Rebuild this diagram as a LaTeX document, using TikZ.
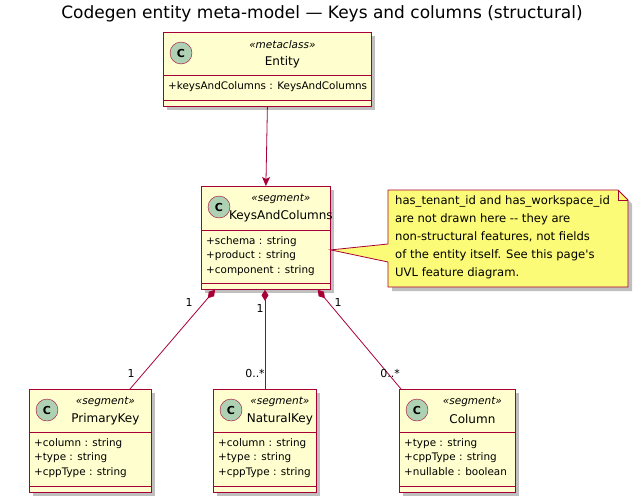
\documentclass[tikz,border=0pt]{standalone}
\usepackage{fontspec}
\setmainfont{DejaVu Sans}
\usetikzlibrary{arrows.meta,calc,positioning}
\definecolor{umlfill}{HTML}{FEFECE}
\definecolor{umlline}{HTML}{A80036}
\definecolor{umlspot}{HTML}{ADD1B2}
\definecolor{umlnote}{HTML}{FBFB77}
\tikzset{
  cls/.style={ draw=umlline, fill=umlfill, line width=0.8pt, inner sep=0pt },
  shade box/.style={ fill=black!25 },
  spot/.style={ draw=umlline, fill=umlspot, circle, minimum size=22pt, inner sep=0pt, font=\fontsize{11}{11}\selectfont\bfseries },
  stereo/.style={ font=\fontsize{10.5}{10}\selectfont\itshape },
  cname/.style={ font=\fontsize{12}{12}\selectfont },
  attrs/.style={ font=\fontsize{10.4}{14.7}\selectfont, align=left, inner sep=0pt, anchor=north west },
  mult/.style={ font=\fontsize{11}{11}\selectfont, inner sep=1pt },
  link/.style={ draw=umlline, line width=0.8pt }
}
% #1 name, #2 x, #3 y, #4 w, #5 h, #6 header, #7 stereotype, #8 title, #9 attributes
\newcommand{\umlclass}[9]{%
  \fill[shade box] (#2+4,#3+4) rectangle ++(#4,#5);
  \node[cls, minimum width=#4pt, minimum height=#5pt, anchor=north west] (#1) at (#2,#3) {};
  \draw[link] ([yshift=-#6pt]#1.north west) -- ([yshift=-#6pt]#1.north east);
  \draw[link] ([yshift=6pt]#1.south west) -- ([yshift=6pt]#1.south east);
  \node[spot] at ([xshift=18pt,yshift=-21pt]#1.north west) {C};
  \node[stereo] at ([xshift=15pt,yshift=-13pt]$(#1.north west)!0.5!(#1.north east)$) {«#7»};
  \node[cname] at ([xshift=15pt,yshift=-30pt]$(#1.north west)!0.5!(#1.north east)$) {#8};
  \node[attrs] at ([xshift=5pt,yshift=-#6pt-6pt]#1.north west) {#9};
}
\begin{document}
\begin{tikzpicture}[x=1pt, y=-1pt]
  \useasboundingbox (0,0) rectangle (642,503);
  \node[font=\fontsize{17}{18}\selectfont] (title) at (322,14) {Codegen entity meta-model — Keys and columns (structural)};

  \umlclass{entity}{163}{32}{208}{74}{43}{metaclass}{Entity}{+keysAndColumns : KeysAndColumns}
  \umlclass{kac}{201}{186}{129}{103}{44}{segment}{KeysAndColumns}{+schema : string\\+product : string\\+component : string}
  \umlclass{pk}{29}{389}{122}{103}{43}{segment}{PrimaryKey}{+column : string\\+type : string\\+cppType : string}
  \umlclass{nk}{213}{389}{103}{103}{43}{segment}{NaturalKey}{+column : string\\+type : string\\+cppType : string}
  \umlclass{col}{399}{389}{116}{103}{43}{segment}{Column}{+type : string\\+cppType : string\\+nullable : boolean}

  % note
  \fill[shade box] (392,194) -- (622,194) -- (632,204) -- (632,291) -- (392,291) -- cycle;
  \draw[umlline, fill=umlnote, line width=0.8pt] (388,190) -- (618,190) -- (628,200) -- (628,287) -- (388,287) -- cycle;
  \draw[umlline, line width=0.8pt] (618,190) -- (618,200) -- (628,200);
  \node[font=\fontsize{11.6}{18}\selectfont, align=left, anchor=north west, inner sep=0pt] (note) at (395,195)
    {has\_tenant\_id and has\_workspace\_id\\are not drawn here {-}{-} they are\\non-structural features, not fields\\of the entity itself. See this page\textquotesingle s\\UVL feature diagram.};
  \coordinate (noteup) at (388,244);
  \coordinate (notelow) at (388,262);
  \coordinate (kacnote) at ([yshift=-12pt]kac.east);
  \fill[umlnote] (kacnote) -- (noteup) -- ([xshift=1pt]noteup) -- ([xshift=1pt]notelow) -- (notelow) -- cycle;
  \draw[link] (noteup) -- (kacnote) -- (notelow);

  \draw[link, -{Stealth[length=9pt,width=8pt,inset=2pt]}] (entity.south) -- (kac.north);

  \draw[link, {Diamond[length=11pt,width=7pt]}-] ([xshift=14pt]kac.south west) -- ([xshift=101pt]pk.north west);
  \draw[link, {Diamond[length=11pt,width=7pt]}-] ([xshift=64pt]kac.south west) -- ([xshift=52pt]nk.north west);
  \draw[link, {Diamond[length=11pt,width=7pt]}-] ([xshift=-13pt]kac.south east) -- ([xshift=2pt]col.north west);

  \node[mult] at (189,302) {1};
  \node[mult] at (131,373) {1};
  \node[mult] at (260,308) {1};
  \node[mult] at (255,373) {0..*};
  \node[mult] at (338,302) {1};
  \node[mult] at (390,373) {0..*};
\end{tikzpicture}
\end{document}
